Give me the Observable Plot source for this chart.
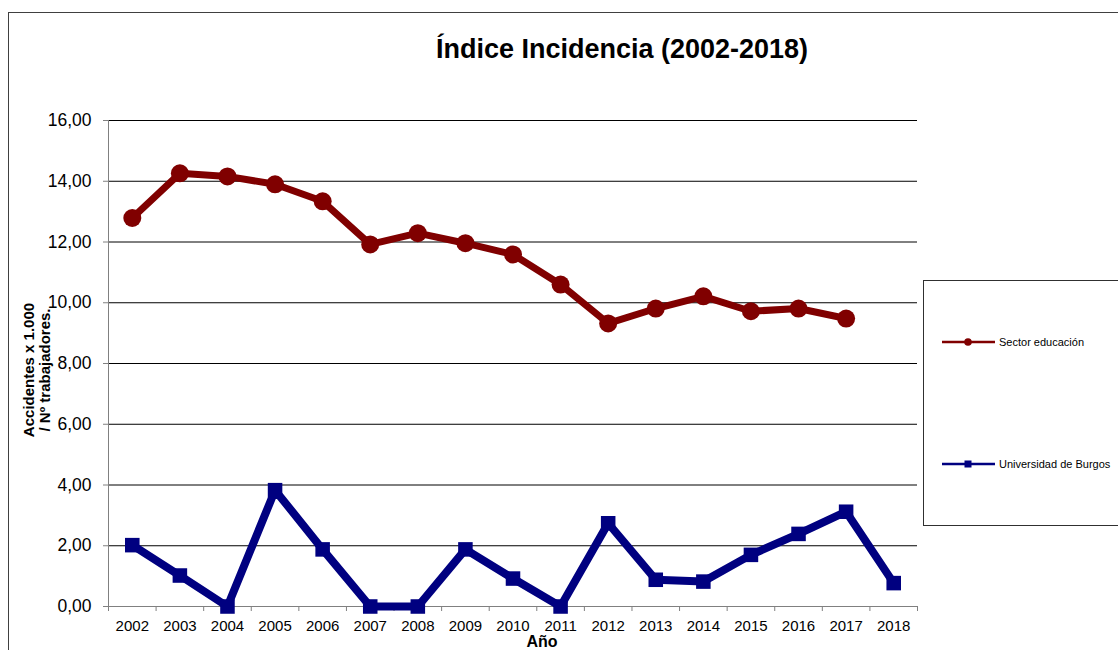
<!DOCTYPE html>
<html>
<head>
<meta charset="utf-8">
<script src="https://cdn.jsdelivr.net/npm/d3@7"></script>
<script src="https://cdn.jsdelivr.net/npm/@observablehq/plot@0.6"></script>
<style>
  html, body { margin: 0; padding: 0; background: #fff; }
  #wrap { position: relative; width: 1118px; height: 650px; overflow: hidden; font-family: "Liberation Sans", Arial, sans-serif; }
  #chart { position: absolute; left: 0; top: 0; }
  #overlay { position: absolute; left: 0; top: 0; pointer-events: none; }
</style>
</head>
<body>
<div id="wrap">
  <div id="chart"></div>
  <svg id="overlay" width="1118" height="650"></svg>
</div>
<script>
const years = [2002, 2003, 2004, 2005, 2006, 2007, 2008, 2009, 2010, 2011, 2012, 2013, 2014, 2015, 2016, 2017, 2018];
const sectorEducacion = [12.79, 14.26, 14.16, 13.90, 13.34, 11.92, 12.29, 11.96, 11.59, 10.60, 9.32, 9.81, 10.21, 9.72, 9.81, 9.48, null];
const universidadBurgos = [2.02, 1.02, 0.00, 3.83, 1.88, 0.00, 0.00, 1.88, 0.92, 0.00, 2.74, 0.88, 0.82, 1.70, 2.39, 3.12, 0.77];
const yTicks = [0, 2, 4, 6, 8, 10, 12, 14, 16];
const seriesNames = ["Sector educación", "Universidad de Burgos"];
const seriesColors = ["#800000", "#000080"];
const titleText = "Índice Incidencia (2002-2018)";
const xLabel = "Año";
const yLabelLines = ["Accidentes x 1.000", "/ Nº trabajadores."];

const sectorData = years.map((year, i) => ({year, value: sectorEducacion[i]})).filter(d => d.value != null);
const burgosData = years.map((year, i) => ({year, value: universidadBurgos[i]})).filter(d => d.value != null);
const boundaries = years.map(y => y - 0.5).concat([years[years.length - 1] + 0.5]);

const fmt = d => d.toFixed(2).replace(".", ",");

const chart = Plot.plot({
  width: 1118,
  height: 650,
  marginLeft: 108,
  marginRight: 201,
  marginTop: 120,
  marginBottom: 44,
  style: { fontFamily: "'Liberation Sans', Arial, sans-serif", background: "#fff", color: "#000" },
  x: { type: "linear", domain: [boundaries[0], boundaries[boundaries.length - 1]] },
  y: { domain: [0, 16] },
  marks: [
    Plot.gridY(yTicks, { stroke: "#000", strokeOpacity: 1, strokeWidth: 1 }),
    Plot.frame({ anchor: "left", stroke: "#808080" }),
    Plot.frame({ anchor: "bottom", stroke: "#808080" }),
    Plot.axisY(yTicks, { tickFormat: fmt, tickSize: 5, tickPadding: 12, fontSize: 17.5, label: null, stroke: "#808080", fill: "#000" }),
    Plot.axisX(years, { tickFormat: d => String(d), tickSize: 0, tickPadding: 14, fontSize: 15, label: null, fill: "#000" }),
    Plot.axisX(boundaries, { tickFormat: () => "", tickSize: 5, label: null, stroke: "#808080" }),
    Plot.line(sectorData, { x: "year", y: "value", stroke: seriesColors[0], strokeWidth: 7, strokeLinejoin: "round" }),
    Plot.dot(sectorData, { x: "year", y: "value", r: 9, fill: seriesColors[0], stroke: "none" }),
    Plot.line(burgosData, { x: "year", y: "value", stroke: seriesColors[1], strokeWidth: 8, strokeLinejoin: "miter" }),
    Plot.dot(burgosData, { x: "year", y: "value", symbol: "square", r: 8.2, fill: seriesColors[1], stroke: "none" })
  ]
});
document.getElementById("chart").appendChild(chart);

// Annotations: frame, title, axis labels, legend
const ov = d3.select("#overlay");
ov.append("rect").attr("x", 8.5).attr("y", 12.5).attr("width", 1130).attr("height", 660)
  .attr("fill", "none").attr("stroke", "#404040").attr("stroke-width", 1);
ov.append("text").attr("x", 622).attr("y", 58).attr("text-anchor", "middle")
  .attr("font-size", 27).attr("font-weight", "bold").attr("fill", "#000").text(titleText);
ov.append("text").attr("x", 542).attr("y", 647).attr("text-anchor", "middle")
  .attr("font-size", 16).attr("font-weight", "bold").attr("fill", "#000").text(xLabel);
yLabelLines.forEach((t, i) => {
  ov.append("text").attr("transform", `translate(${34 + i * 16},370) rotate(-90)`)
    .attr("text-anchor", "middle").attr("font-size", 15).attr("font-weight", "bold").attr("fill", "#000").text(t);
});
const lg = ov.append("g");
lg.append("rect").attr("x", 923.5).attr("y", 280.5).attr("width", 220).attr("height", 245)
  .attr("fill", "#fff").attr("stroke", "#303030").attr("stroke-width", 1);
const legendY = [342, 464];
seriesNames.forEach((name, i) => {
  const y = legendY[i];
  lg.append("line").attr("x1", 942).attr("x2", 995).attr("y1", y).attr("y2", y)
    .attr("stroke", seriesColors[i]).attr("stroke-width", 2.5);
  if (i === 0) {
    lg.append("circle").attr("cx", 968).attr("cy", y).attr("r", 3.8).attr("fill", seriesColors[i]);
  } else {
    lg.append("rect").attr("x", 964.5).attr("y", y - 3.5).attr("width", 7).attr("height", 7).attr("fill", seriesColors[i]);
  }
  lg.append("text").attr("x", 999).attr("y", y + 4).attr("font-size", 11).attr("fill", "#000").text(name);
});
</script>
</body>
</html>
